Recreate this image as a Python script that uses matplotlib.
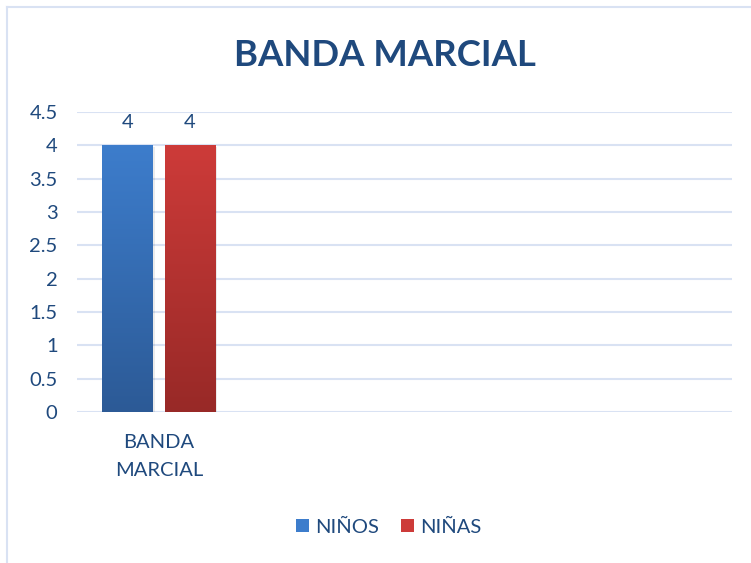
import numpy as np
import matplotlib.pyplot as plt
from matplotlib.colors import LinearSegmentedColormap
from matplotlib.patches import Rectangle

# data
categories = ["BANDA\nMARCIAL", "", "", ""]
ninos = [4, np.nan, np.nan, np.nan]
ninas = [4, np.nan, np.nan, np.nan]
series_names = ["NIÑOS", "NIÑAS"]
yticks = [0, 0.5, 1, 1.5, 2, 2.5, 3, 3.5, 4, 4.5]

TEXT = "#1f497d"
GRID = "#d9e2f3"
BLUE_TOP, BLUE_BOT = "#3d7dcc", "#2c5a96"
RED_TOP, RED_BOT = "#cd3b39", "#982927"

plt.rcParams["font.family"] = ["Lato", "DejaVu Sans"]

fig = plt.figure(figsize=(7.51, 5.63), dpi=100)
ax = fig.add_axes([77 / 751, 1 - 412 / 563, (732 - 77) / 751, 300 / 563])

x = np.arange(len(categories))
width = 0.31
offset = 0.19


def gradient_bars(xs, vals, top, bot, label):
    bars = ax.bar(xs, np.nan_to_num(vals), width, color=top, label=label,
                  zorder=2)
    cmap = LinearSegmentedColormap.from_list(label, [bot, top])
    grad = np.linspace(0, 1, 256).reshape(-1, 1)
    for b, v in zip(bars, vals):
        if np.isnan(v):
            continue
        x0, w, h = b.get_x(), b.get_width(), b.get_height()
        # faint shadow to the right/below like Excel
        ax.add_patch(Rectangle((x0 + 0.01, -0.03), w, h, color="#000000",
                               alpha=0.08, zorder=1, lw=0))
        im = ax.imshow(grad, cmap=cmap, origin="lower", aspect="auto",
                       extent=[x0, x0 + w, 0, h], zorder=3)
        im.set_clip_path(b)
        ax.text(b.get_x() + w / 2, h + 0.22, f"{v:g}", ha="center",
                va="bottom", fontsize=14.5, color=TEXT)
    return bars


gradient_bars(x - offset, ninos, BLUE_TOP, BLUE_BOT, series_names[0])
gradient_bars(x + offset, ninas, RED_TOP, RED_BOT, series_names[1])

ax.set_xlim(-0.5, len(categories) - 0.5)
ax.set_ylim(0, 4.5)
ax.set_yticks(yticks)
ax.set_yticklabels([f"{t:g}" for t in yticks])
ax.set_xticks(x)
ax.set_xticklabels(categories, linespacing=1.8)
ax.tick_params(axis="both", length=0, labelsize=14.5, labelcolor=TEXT)
ax.tick_params(axis="y", pad=14)
ax.tick_params(axis="x", pad=16)
ax.grid(axis="y", color=GRID, lw=1.5, zorder=0)
ax.set_axisbelow(True)
for s in ax.spines.values():
    s.set_visible(False)

fig.text(385 / 751, 1 - 55 / 563, "BANDA MARCIAL", ha="center", va="center",
         fontsize=26.3, fontweight="bold", color=TEXT)

leg = fig.legend(loc="center", bbox_to_anchor=(389 / 751, 1 - 527 / 563),
                 ncol=2, frameon=False, fontsize=14.5, handlelength=0.65,
                 handleheight=0.65, handletextpad=0.3, columnspacing=1.1)
for t in leg.get_texts():
    t.set_color(TEXT)

# chart area border (left/top visible in reference)
fig.add_artist(plt.Line2D([7 / 751, 7 / 751], [0, 1 - 7 / 563],
                          color=GRID, lw=1.5, transform=fig.transFigure))
fig.add_artist(plt.Line2D([7 / 751, 1], [1 - 7 / 563, 1 - 7 / 563],
                          color=GRID, lw=1.5, transform=fig.transFigure))

fig.savefig("out.png", dpi=100)
